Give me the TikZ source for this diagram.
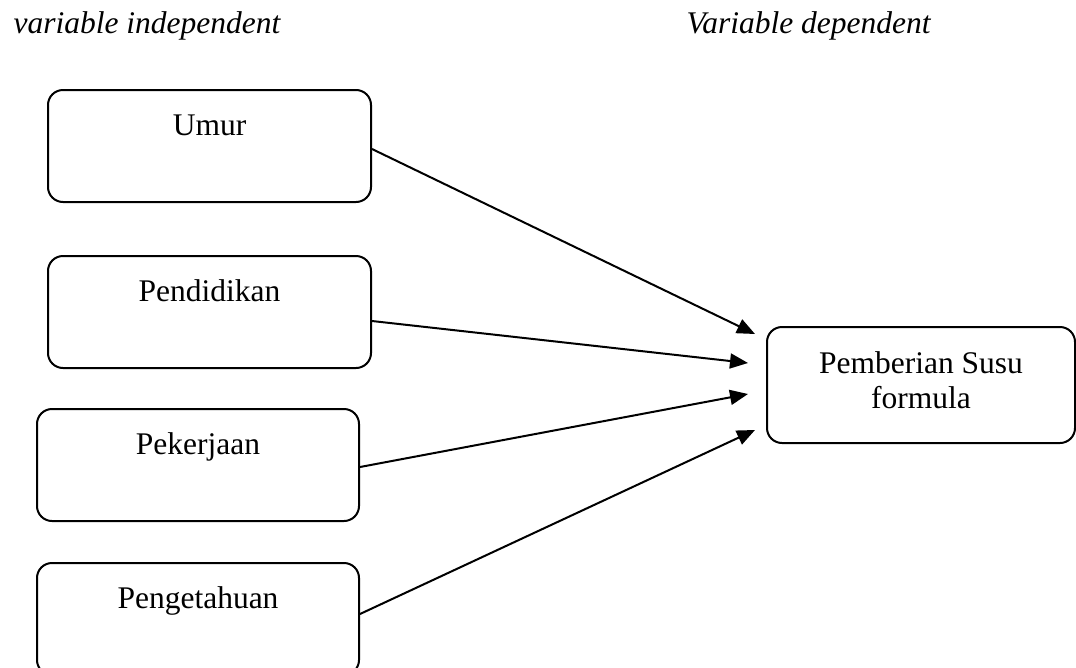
\documentclass[tikz,border=0pt]{standalone}
\usepackage{fontspec}
\setmainfont{Liberation Serif}
\usetikzlibrary{arrows.meta}
\tikzset{
	varbox/.style={draw, line width=2pt, rounded corners=15pt, minimum width=323pt, inner xsep=0pt, inner ysep=0pt, text height=45pt, text depth=67pt, anchor=north west},
	hasilbox/.style={draw, line width=2pt, rounded corners=15pt, minimum width=308pt, minimum height=116pt, inner sep=0pt, align=center, text depth=10pt},
	panah/.style={line width=2pt, -{Triangle[length=18pt,width=15pt]}}
}
\begin{document}
\begin{tikzpicture}[x=1pt,y=-1pt,font=\fontsize{31.5}{35}\selectfont]
	\clip (0,0) rectangle (1076,667);
	\node[anchor=base west] (judulx) at (10,33) {\itshape variable independent};
	\node[anchor=base west] (juduly) at (683,33) {\itshape Variable dependent};
	% variabel bebas
	\node[varbox] (umur) at (47,89) {Umur};
	\node[varbox] (pend) at (47,255) {Pendidikan};
	\node[varbox, minimum width=322pt] (pek) at (36,408) {Pekerjaan};
	\node[varbox, minimum width=322pt] (peng) at (36,562) {Pengetahuan};
	% variabel terikat
	\node[hasilbox] (pemb) at (921,385) {Pemberian Susu\\formula};
	\draw[panah] ([yshift=-3pt]umur.east) -- ([xshift=-11pt,yshift=51pt]pemb.west);
	\draw[panah] ([yshift=-9pt]pend.east) -- ([xshift=-18pt,yshift=22pt]pemb.west);
	\draw[panah] ([yshift=-2pt]pek.east) -- ([xshift=-18pt,yshift=-9pt]pemb.west);
	\draw[panah] ([yshift=5pt]peng.east) -- ([xshift=-11pt,yshift=-45pt]pemb.west);
\end{tikzpicture}
\end{document}
